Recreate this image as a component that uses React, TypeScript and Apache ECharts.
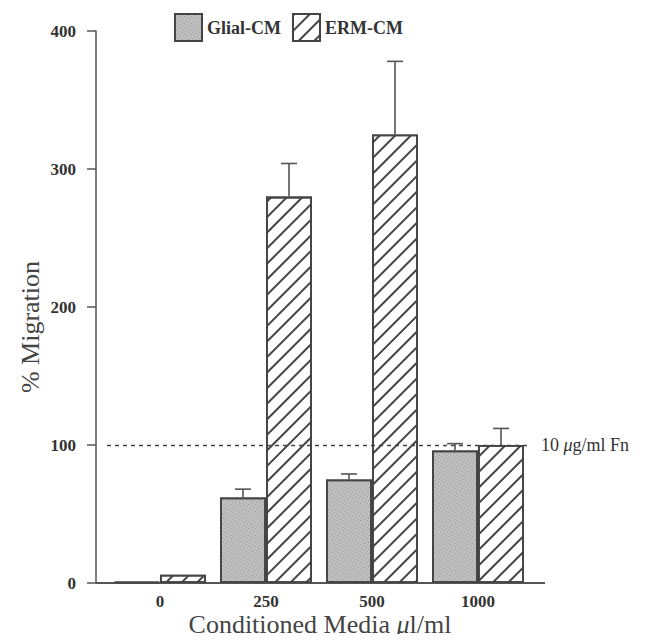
import React, { useEffect, useRef } from "react";
import * as echarts from "echarts";

const categories = ["0", "250", "500", "1000"];
const glialValues = [1, 62, 75, 96];
const glialErrors = [0, 6, 4, 5];
const ermValues = [6, 280, 325, 100];
const ermErrors = [0, 24, 53, 12];
const yTicks = { min: 0, max: 400, interval: 100 };
const referenceLevel = 100;

const FONT = "'Liberation Serif', 'DejaVu Serif', serif";
const BAR_W = 46;

export default function App() {
  const ref = useRef<HTMLDivElement>(null);
  useEffect(() => {
    if (!ref.current) return;
    const chart = echarts.init(ref.current, undefined, { renderer: "svg" });
    const errItem = (vals: number[], errs: number[], side: number) =>
      (params: any, api: any) => {
        const i = api.value(0);
        const v = vals[i];
        const e = errs[i];
        if (!e) return null;
        const base = api.coord([i, v]);
        const top = api.coord([i, v + e]);
        const x = base[0] + side * (BAR_W / 2);
        const style = { stroke: "#555", lineWidth: 1.6 };
        return {
          type: "group",
          children: [
            { type: "line", shape: { x1: x, y1: base[1], x2: x, y2: top[1] }, style },
            { type: "line", shape: { x1: x - 8, y1: top[1], x2: x + 8, y2: top[1] }, style },
          ],
        };
      };
    const italicMu = { fontFamily: FONT, fontStyle: "italic" };
    chart.setOption({
      animation: false,
      aria: { enabled: true, decal: { show: true } },
      textStyle: { fontFamily: FONT },
      legend: {
        left: 161,
        top: 0,
        itemWidth: 27,
        itemHeight: 27,
        itemGap: 11,
        icon: "rect",
        textStyle: { fontFamily: FONT, fontSize: 18, fontWeight: "bold", color: "#333" },
        data: ["Glial-CM", "ERM-CM"],
      },
      grid: { left: 99, right: 119, top: 23, bottom: 59, outerBoundsMode: "none" },
      xAxis: {
        type: "category",
        data: categories,
        axisLine: { show: false },
        axisTick: { show: false },
        axisLabel: { fontFamily: FONT, fontSize: 17, fontWeight: "bold", color: "#333", margin: 10 },
        name: "Conditioned Media {m|μ}l/ml",
        nameLocation: "middle",
        nameMoveOverlap: false,
        nameGap: 28,
        nameTextStyle: {
          fontFamily: FONT,
          fontSize: 26,
          color: "#444",
          padding: [0, 0, 0, 2],
          rich: { m: { ...italicMu, fontSize: 26, color: "#444" } },
        },
      },
      yAxis: {
        type: "value",
        min: yTicks.min,
        max: yTicks.max,
        interval: yTicks.interval,
        offset: 11,
        splitLine: { show: false },
        axisLine: { show: true, lineStyle: { color: "#555", width: 1.5 } },
        axisTick: { show: true, length: 9, lineStyle: { color: "#555", width: 1.5 } },
        axisLabel: { fontFamily: FONT, fontSize: 17, fontWeight: "bold", color: "#333", margin: 20 },
        name: "% Migration",
        nameLocation: "middle",
        nameMoveOverlap: false,
        nameGap: 53,
        nameTextStyle: { fontFamily: FONT, fontSize: 26, color: "#444", padding: [0, 0, 0, -40] },
      },
      graphic: [
        {
          type: "line",
          shape: { x1: 88, y1: 575, x2: 537, y2: 575 },
          style: { stroke: "#555", lineWidth: 1.8 },
        },
      ],
      series: [
        {
          name: "Glial-CM",
          type: "bar",
          data: glialValues,
          barWidth: BAR_W,
          barGap: "0%",
          itemStyle: {
            color: "#c0c0c0",
            borderColor: "#444",
            borderWidth: 1.8,
            decal: {
              symbol: "rect",
              symbolSize: 1,
              dashArrayX: [1, 2],
              dashArrayY: [1, 2],
              color: "rgba(80,80,80,0.45)",
            },
          },
          markLine: {
            silent: true,
            symbol: "none",
            lineStyle: { type: [4, 4], color: "#444", width: 1.3 },
            label: {
              show: true,
              position: "end",
              formatter: "10 {m|μ}g/ml Fn",
              fontFamily: FONT,
              fontSize: 18,
              color: "#333",
              distance: 10,
              rich: { m: { ...italicMu, fontSize: 18, color: "#333" } },
            },
            data: [{ yAxis: referenceLevel }],
          },
        },
        {
          name: "ERM-CM",
          type: "bar",
          data: ermValues,
          barWidth: BAR_W,
          barGap: "0%",
          itemStyle: {
            color: "#ffffff",
            borderColor: "#444",
            borderWidth: 1.8,
            decal: {
              symbol: "rect",
              symbolSize: 1,
              dashArrayX: [1, 0],
              dashArrayY: [1.6, 9],
              rotation: -Math.PI / 4,
              color: "#444",
            },
          },
        },
        {
          type: "custom",
          renderItem: errItem(glialValues, glialErrors, -1),
          data: categories.map((_, i) => [i]),
          z: 5,
          silent: true,
        },
        {
          type: "custom",
          renderItem: errItem(ermValues, ermErrors, 1),
          data: categories.map((_, i) => [i]),
          z: 5,
          silent: true,
        },
      ],
    });
    return () => chart.dispose();
  }, []);
  return <div ref={ref} style={{ width: 642, height: 634, marginBottom: -8 }} />;
}
